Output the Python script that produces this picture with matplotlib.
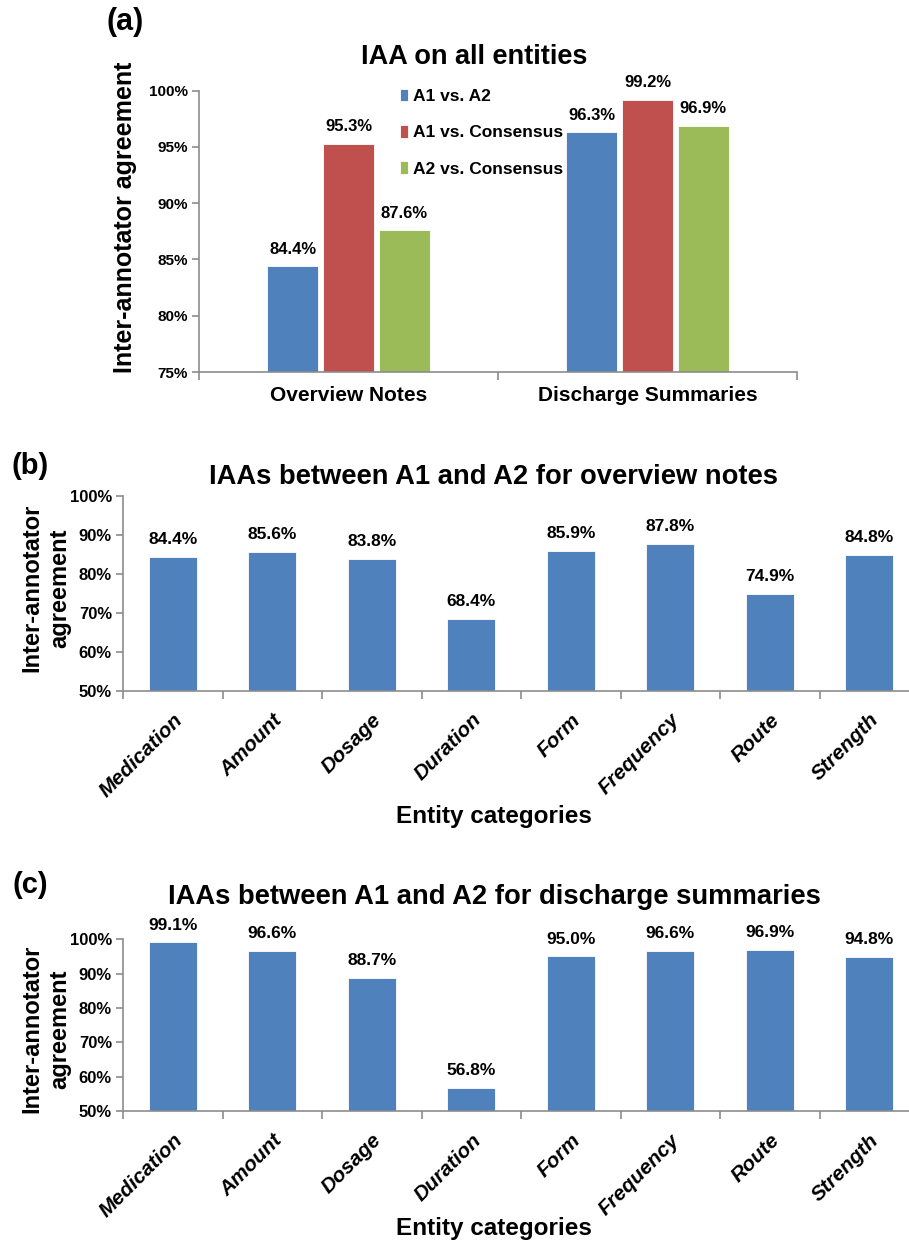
import matplotlib
matplotlib.use("Agg")
import matplotlib.pyplot as plt
import numpy as np
from matplotlib.ticker import FuncFormatter, FixedLocator
import matplotlib.transforms as mtrans

# ---------------- data ----------------
groups_a = ["Overview Notes", "Discharge Summaries"]
series_a = ["A1 vs. A2", "A1 vs. Consensus", "A2 vs. Consensus"]
a1_vs_a2 = [84.4, 96.3]
a1_vs_cons = [95.3, 99.2]
a2_vs_cons = [87.6, 96.9]

categories = ["Medication", "Amount", "Dosage", "Duration", "Form",
              "Frequency", "Route", "Strength"]
overview_vals = [84.4, 85.6, 83.8, 68.4, 85.9, 87.8, 74.9, 84.8]
discharge_vals = [99.1, 96.6, 88.7, 56.8, 95.0, 96.6, 96.9, 94.8]

yticks_a = [75, 80, 85, 90, 95, 100]
yticks_bc = [50, 60, 70, 80, 90, 100]

# ---------------- style ----------------
BLUE = "#4F81BD"
RED = "#C0504D"
GREEN = "#9BBB59"
AXC = "#8C8C8C"
NARROW = ["Liberation Sans Narrow", "Liberation Sans", "DejaVu Sans"]
SANS = ["Liberation Sans", "DejaVu Sans"]

W, H = 909, 1244
fig = plt.figure(figsize=(W / 100, H / 100), dpi=100)


def fx(px):
    return px / W


def fy(py):
    return 1 - py / H


def style_axes(ax):
    for s in ["top", "right"]:
        ax.spines[s].set_visible(False)
    for s in ["left", "bottom"]:
        ax.spines[s].set_color(AXC)
        ax.spines[s].set_linewidth(1.2)
    ax.tick_params(axis="y", which="major", length=5, width=1.2, color=AXC,
                   pad=3)
    ax.tick_params(axis="x", which="major", length=6, width=1.2, color=AXC,
                   direction="out")
    ax.tick_params(axis="x", which="minor", length=0)
    ax.yaxis.set_major_formatter(FuncFormatter(lambda v, p: f"{v:.0f}%"))


# ---------------- panel (a) ----------------
axa = fig.add_axes([fx(199), fy(372), fx(797 - 199), (372 - 90.7) / H])
x = np.arange(len(groups_a))
bw = 0.17
step = 0.187
for i, (vals, col, lab) in enumerate(zip([a1_vs_a2, a1_vs_cons, a2_vs_cons],
                                         [BLUE, RED, GREEN], series_a)):
    bars = axa.bar(x + (i - 1) * step, vals, width=bw, color=col, label=lab,
                   edgecolor="white", linewidth=0.6, zorder=2)
    for b, v in zip(bars, vals):
        axa.annotate(f"{v:.1f}%", (b.get_x() + b.get_width() / 2, v),
                     xytext=(0, 7), textcoords="offset points",
                     ha="center", va="bottom", fontsize=12,
                     fontweight="bold", family=NARROW)
axa.set_xlim(-0.5, 1.5)
axa.set_ylim(75, 100)
axa.set_yticks(yticks_a)
axa.xaxis.set_major_locator(FixedLocator([-0.5, 0.5, 1.5]))
axa.xaxis.set_minor_locator(FixedLocator(x))
axa.set_xticklabels([], minor=False)
axa.set_xticklabels(groups_a, minor=True, fontsize=15, fontweight="bold",
                    family=NARROW)
axa.tick_params(axis="x", which="minor", pad=10)
style_axes(axa)
for t in axa.get_yticklabels():
    t.set_fontsize(11)
    t.set_fontweight("bold")
    t.set_family(NARROW)
leg = axa.legend(loc="upper left", bbox_to_anchor=(fx(391), fy(80)),
                 bbox_transform=fig.transFigure, frameon=False,
                 handlelength=0.5, handleheight=0.75, handletextpad=0.25,
                 labelspacing=1.2, borderpad=0,
                 prop={"family": NARROW, "size": 12.5, "weight": "bold"})
fig.text(fx(474), fy(57), "IAA on all entities", ha="center", va="center",
         fontsize=19.5, fontweight="bold", family=NARROW)
fig.text(fx(125), fy(217), "Inter-annotator agreement", rotation=90,
         ha="center", va="center", fontsize=18, fontweight="bold",
         family=SANS)
fig.text(fx(125), fy(22), "(a)", ha="center", va="center", fontsize=22,
         fontweight="bold", family=SANS)


# ---------------- panels (b) and (c) ----------------
def cat_panel(top_px, bot_px, vals, title, title_y, lab_y, ylab_y):
    ax = fig.add_axes([fx(123), fy(bot_px), fx(99.5 * 8), (bot_px - top_px) / H])
    xc = np.arange(len(categories))
    bars = ax.bar(xc, vals, width=0.48, color=BLUE, edgecolor="white",
                  linewidth=0.6, zorder=2)
    for b, v in zip(bars, vals):
        ax.annotate(f"{v:.1f}%", (b.get_x() + b.get_width() / 2, v),
                    xytext=(0, 7), textcoords="offset points",
                    ha="center", va="bottom", fontsize=12.5,
                    fontweight="bold", family=NARROW)
    ax.set_xlim(-0.5, len(categories) - 0.5)
    ax.set_ylim(50, 100)
    ax.set_yticks(yticks_bc)
    ax.xaxis.set_major_locator(FixedLocator(np.arange(len(categories) + 1) - 0.5))
    ax.xaxis.set_minor_locator(FixedLocator(xc))
    ax.set_xticklabels([], minor=False)
    ax.set_xticklabels(categories, minor=True, rotation=45, ha="right",
                       va="top", rotation_mode="anchor", fontsize=15,
                       fontweight="bold", style="italic", family=SANS)
    ax.tick_params(axis="x", which="minor", pad=14)
    off = mtrans.ScaledTranslation(12 / 100, 0, fig.dpi_scale_trans)
    for t in ax.get_xticklabels(minor=True):
        t.set_transform(t.get_transform() + off)
    style_axes(ax)
    for t in ax.get_yticklabels():
        t.set_fontsize(12)
        t.set_fontweight("bold")
        t.set_family(SANS)
    fig.text(fx(494), fy(title_y), title, ha="center", va="center",
             fontsize=19.7, fontweight="bold", family=NARROW)
    fig.text(fx(46), fy(ylab_y), "Inter-annotator\nagreement",
             rotation=90, ha="center", va="center", fontsize=17,
             fontweight="bold", family=SANS, linespacing=1.25)
    fig.text(fx(494), fy(lab_y), "Entity categories", ha="center",
             va="center", fontsize=17.5, fontweight="bold", family=NARROW)
    return ax


cat_panel(496, 690.7, overview_vals,
          "IAAs between A1 and A2 for overview notes", 477, 816, 588)
cat_panel(939.3, 1111, discharge_vals,
          "IAAs between A1 and A2 for discharge summaries", 897, 1229, 1029)
fig.text(fx(30), fy(466), "(b)", ha="center", va="center", fontsize=21,
         fontweight="bold", family=SANS)
fig.text(fx(30), fy(885), "(c)", ha="center", va="center", fontsize=21,
         fontweight="bold", family=SANS)

fig.savefig("out.png", dpi=100)
